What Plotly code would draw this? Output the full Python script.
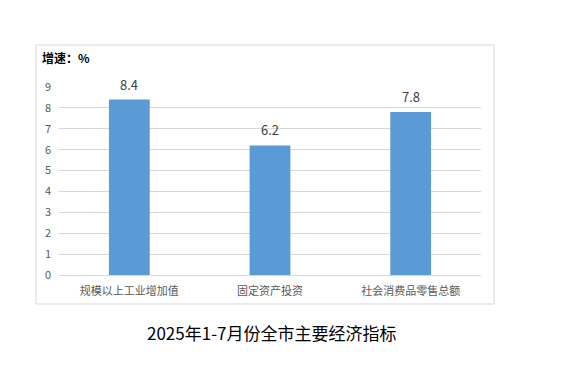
import plotly.graph_objects as go

categories = ["规模以上工业增加值", "固定资产投资", "社会消费品零售总额"]
values = [8.4, 6.2, 7.8]
y_ticks = [0, 1, 2, 3, 4, 5, 6, 7, 8, 9]
unit_label = "增速：%"
chart_title = "2025年1-7月份全市主要经济指标"

W, H = 561, 373
L, R, T, B = 59, 80, 87, 98
pw, ph = W - L - R, H - T - B

def px_x(x):
    return (x - L) / pw

def px_y(y):
    return (H - B - y) / ph

font_cjk = "Microsoft YaHei, Noto Sans CJK SC, sans-serif"

fig = go.Figure(go.Bar(
    x=categories, y=values,
    marker=dict(color="#5b9bd5", line=dict(width=0)),
    width=0.29,
    cliponaxis=False,
))

label_annots = [
    dict(x=c, y=v, xref="x", yref="y", text=f"{v:.1f}", showarrow=False,
         yanchor="bottom", yshift=4,
         font=dict(color="#404040", size=13, family=font_cjk))
    for c, v in zip(categories, values)
]

fig.update_layout(
    width=W, height=H,
    margin=dict(l=L, r=R, t=T, b=B),
    paper_bgcolor="white", plot_bgcolor="white",
    showlegend=False,
    xaxis=dict(showgrid=False, showline=True, linecolor="#d9d9d9", linewidth=1,
               ticks="", ticklabelstandoff=6,
               tickfont=dict(size=11, color="#595959", family=font_cjk)),
    yaxis=dict(range=[0, 9], tickvals=y_ticks, showgrid=True, gridcolor="#d9d9d9",
               gridwidth=1, zeroline=False, showline=False, ticks="",
               ticklabelstandoff=7,
               tickfont=dict(size=11, color="#595959", family=font_cjk)),
    shapes=[dict(type="rect", xref="paper", yref="paper",
                 x0=px_x(36), x1=px_x(494), y0=px_y(304), y1=px_y(45),
                 line=dict(color="#d9d9d9", width=1), fillcolor="rgba(0,0,0,0)",
                 layer="below")],
    annotations=label_annots + [
        dict(text="<b>" + unit_label + "</b>", xref="paper", yref="paper",
             x=px_x(40), y=px_y(57), xanchor="left", yanchor="middle",
             showarrow=False, font=dict(size=12, color="#000000", family=font_cjk)),
        dict(text=chart_title, xref="paper", yref="paper",
             x=px_x(272), y=px_y(332), xanchor="center", yanchor="middle",
             showarrow=False, font=dict(size=17, color="#000000", family=font_cjk)),
    ],
)

fig.write_html("out.html")
